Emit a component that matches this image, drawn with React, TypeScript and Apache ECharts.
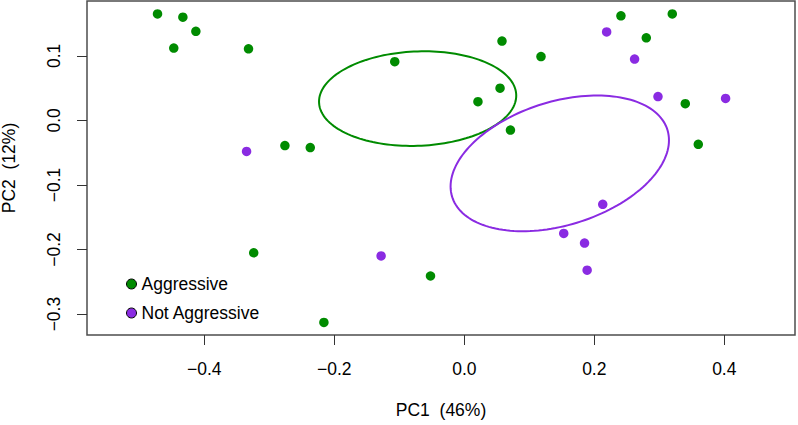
import { useEffect, useRef } from "react";
import * as echarts from "echarts";

const xTicks = [-0.4, -0.2, 0, 0.2, 0.4];
const yTicks = [-0.3, -0.2, -0.1, 0, 0.1];

const aggressive = [
  [-0.472, 0.165], [-0.433, 0.16], [-0.413, 0.138], [-0.447, 0.112], [-0.332, 0.111],
  [-0.107, 0.091], [-0.276, -0.039], [-0.237, -0.042], [0.241, 0.162], [0.32, 0.165],
  [0.28, 0.128], [0.058, 0.123], [0.118, 0.099], [0.055, 0.05], [0.021, 0.029],
  [0.071, -0.015], [0.34, 0.026], [0.36, -0.037], [-0.324, -0.205], [-0.216, -0.313],
  [-0.052, -0.241],
];

const notAggressive = [
  [-0.335, -0.048], [0.219, 0.137], [0.262, 0.095], [0.298, 0.037], [0.402, 0.034],
  [0.213, -0.13], [-0.128, -0.21], [0.153, -0.175], [0.185, -0.19], [0.189, -0.232],
];

// ellipse parameters: [centerX, centerY, sdX, sdY, correlation]
const aggressiveEllipse = [-0.0718, 0.0338, 0.1517, 0.0733, 0.064];
const notAggressiveEllipse = [0.1469, -0.0665, 0.168, 0.1051, 0.341];

const GREEN = "#008B00";
const PURPLE = "#8A2BE2";
const FONT = "'Liberation Sans', Arial, Helvetica, sans-serif";

const fmt = (v: number) => v.toFixed(1).replace("-", "\u2212");

function ellipseSeries(name: string, params: number[], color: string) {
  return {
    type: "custom",
    name,
    data: [params],
    encode: { x: 0, y: 1 },
    silent: true,
    z: 3,
    renderItem: (_p: any, api: any) => {
      const cx = api.value(0);
      const cy = api.value(1);
      const sx = api.value(2);
      const sy = api.value(3);
      const r = api.value(4);
      const sq = Math.sqrt(1 - r * r);
      const pts: number[][] = [];
      const n = 160;
      for (let i = 0; i <= n; i++) {
        const t = (2 * Math.PI * i) / n;
        const x = cx + sx * Math.cos(t);
        const y = cy + sy * (r * Math.cos(t) + sq * Math.sin(t));
        pts.push(api.coord([x, y]));
      }
      return {
        type: "polyline",
        shape: { points: pts },
        style: { stroke: color, fill: "none", lineWidth: 2 },
      };
    },
  };
}

export default function App() {
  const ref = useRef<HTMLDivElement>(null);
  useEffect(() => {
    if (!ref.current) return;
    const chart = echarts.init(ref.current, undefined, { renderer: "svg" });
    chart.setOption({
      animation: false,
      textStyle: { fontFamily: FONT },
      grid: {
        left: 87,
        top: 1,
        right: 3,
        bottom: 90,
        containLabel: false,
        outerBoundsMode: "none",
        show: true,
        borderColor: "#4d4d4d",
        borderWidth: 1.5,
        backgroundColor: "transparent",
      },
      xAxis: {
        type: "value",
        min: -0.5805,
        max: 0.5088,
        name: "PC1  (46%)",
        nameLocation: "middle",
        nameGap: 66,
        nameTextStyle: { fontSize: 17.5, color: "#000", fontFamily: FONT },
        splitLine: { show: false },
        axisLine: { show: false, onZero: false },
        axisTick: {
          show: true,
          customValues: xTicks,
          length: 10,
          lineStyle: { color: "#333", width: 1 },
        },
        axisLabel: {
          customValues: xTicks,
          formatter: (v: number) => fmt(v),
          fontSize: 17.5,
          color: "#000",
          margin: 25,
          fontFamily: FONT,
        },
      },
      yAxis: {
        type: "value",
        min: -0.3324,
        max: 0.185,
        name: "PC2  (12%)",
        nameLocation: "middle",
        nameGap: 69,
        nameRotate: 90,
        nameTextStyle: { fontSize: 17.5, color: "#000", fontFamily: FONT },
        splitLine: { show: false },
        axisLine: { show: false, onZero: false },
        axisTick: {
          show: true,
          customValues: yTicks,
          length: 10,
          lineStyle: { color: "#333", width: 1 },
        },
        axisLabel: {
          customValues: yTicks,
          formatter: (v: number) => fmt(v),
          rotate: 90,
          fontSize: 17.5,
          color: "#000",
          margin: 24,
          fontFamily: FONT,
        },
      },
      legend: {
        data: ["Aggressive", "Not Aggressive"],
        orient: "vertical",
        left: 121,
        top: 270,
        itemWidth: 10,
        itemHeight: 10,
        itemGap: 11,
        icon: "circle",
        itemStyle: { borderColor: "#000", borderWidth: 1 },
        textStyle: { fontSize: 17.5, color: "#000", fontFamily: FONT },
        selectedMode: false,
      },
      series: [
        {
          type: "scatter",
          name: "Aggressive",
          data: aggressive,
          symbol: "circle",
          symbolSize: 9.5,
          itemStyle: { color: GREEN, opacity: 1 },
          z: 2,
        },
        {
          type: "scatter",
          name: "Not Aggressive",
          data: notAggressive,
          symbol: "circle",
          symbolSize: 9.5,
          itemStyle: { color: PURPLE, opacity: 1 },
          z: 2,
        },
        ellipseSeries("Aggressive ellipse", aggressiveEllipse, GREEN),
        ellipseSeries("Not Aggressive ellipse", notAggressiveEllipse, PURPLE),
      ],
    });
    return () => chart.dispose();
  }, []);
  return (
    <div
      ref={ref}
      style={{ position: "fixed", left: 0, top: 0, width: 798, height: 425, background: "#fff" }}
    />
  );
}
